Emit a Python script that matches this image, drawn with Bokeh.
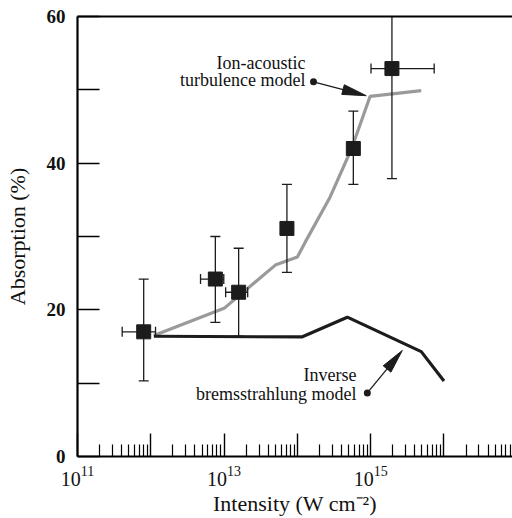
import math
from bokeh.plotting import figure
from bokeh.models import (Range1d, FixedTicker, CustomJSTickFormatter, LinearAxis,
                          Whisker, TeeHead, ColumnDataSource, LogTickFormatter)
from bokeh.core.properties import value
from bokeh.embed import file_html
from bokeh.resources import INLINE

# ---------------- data ----------------
intensity = [8.0e11, 7.6e12, 1.58e13, 7.2e13, 5.8e14, 1.95e15]
absorption = [17.0, 24.2, 22.4, 31.1, 42.0, 52.9]
absorption_low = [10.3, 18.3, 16.4, 25.1, 37.1, 37.9]
absorption_high = [24.2, 30.0, 28.4, 37.1, 47.1, 62.0]
intensity_low = [4.07e11, 4.77e12, 1.05e13, None, None, 1.01e15]
intensity_high = [1.16e12, 9.9e12, 2.1e13, None, None, 7.35e15]

ion_x = [1.1e12, 1.0e13, 5.0e13, 1.0e14, 1.29e14, 2.8e14, 5.5e14, 9.8e14, 4.9e15]
ion_y = [16.5, 20.2, 26.1, 27.2, 29.3, 35.4, 42.0, 49.1, 49.9]

brems_x = [1.1e12, 1.15e14, 4.8e14, 4.9e15, 1.0e16]
brems_y = [16.4, 16.3, 19.0, 14.3, 10.3]

y_ticks = [0, 10, 20, 30, 40, 50, 60]
y_tick_labels = {"0": "0", "20": "20", "40": "40", "60": "60"}
x_unlabelled_decades = [1e12, 1e14, 1e16]

ion_label = ["Ion-acoustic", "turbulence model"]
ion_label_x = 1.29e14
ion_label_y = [53.7, 51.4]
ion_dot = (1.66e14, 51.1)
ion_tip = (8.7e14, 49.2)

brems_label = ["Inverse", "bremsstrahlung model"]
brems_label_x = 6.4e14
brems_label_y = [11.16, 8.57]
brems_dot = (9.0e14, 8.67)
brems_tip = (2.7e15, 14.46)

# ---------------- figure ----------------
LX0, LX1 = 11.0, 16.935
FW, FH = 435, 441
SERIF = "'Liberation Serif', serif"
INK = "#111111"

p = figure(width=512, height=518, x_axis_type="log",
           x_range=Range1d(10 ** LX0, 10 ** LX1), y_range=Range1d(0, 60),
           output_backend="svg", toolbar_location=None,
           min_border_left=77, min_border_right=0, min_border_top=16, min_border_bottom=61)
p.outline_line_color = None
p.xgrid.visible = False
p.ygrid.visible = False
p.background_fill_color = "white"
p.border_fill_color = "white"

# x axis
xa = p.xaxis[0]
decades = [10.0 ** k for k in range(11, 17)]
minors = [m * 10.0 ** k for k in range(11, 17) for m in range(2, 10)]
xa.ticker = FixedTicker(ticks=decades, minor_ticks=minors)
xa.formatter = LogTickFormatter()
xa.major_label_overrides = {d: "" for d in x_unlabelled_decades}
xa.major_tick_in = 23
xa.major_tick_out = 0
xa.minor_tick_in = 12
xa.minor_tick_out = 0
xa.major_tick_line_width = 1.4
xa.minor_tick_line_width = 1.2
xa.axis_line_width = 2.2
xa.major_label_standoff = 9
xa.major_label_text_font = SERIF
xa.major_label_text_font_size = "20px"
xa.major_label_text_color = INK
xa.axis_label = "Intensity (W cm⁻²)"
xa.axis_label_text_font = SERIF
xa.axis_label_text_font_size = "22px"
xa.axis_label_text_font_style = "normal"
xa.axis_label_text_color = INK
xa.axis_label_standoff = 2

# y axis
ya = p.yaxis[0]
ya.ticker = FixedTicker(ticks=y_ticks, minor_ticks=[])
ya.formatter = CustomJSTickFormatter(args=dict(labels=y_tick_labels), code="""
    const k = String(Math.round(tick));
    return (k in labels) ? labels[k] : "";
""")
ya.major_tick_in = 22
ya.major_tick_out = 0
ya.minor_tick_line_color = None
ya.major_tick_line_width = 1.5
ya.axis_line_width = 2.2
ya.major_label_standoff = 12
ya.major_label_text_font = SERIF
ya.major_label_text_font_size = "19px"
ya.major_label_text_font_style = "bold"
ya.major_label_text_color = INK
ya.axis_label = "Absorption (%)"
ya.axis_label_text_font = SERIF
ya.axis_label_text_font_size = "22px"
ya.axis_label_text_font_style = "normal"
ya.axis_label_text_color = INK
ya.axis_label_standoff = 14

# top line
top = LinearAxis(ticker=FixedTicker(ticks=[]), axis_line_width=2.2,
                 major_tick_line_color=None, minor_tick_line_color=None,
                 major_label_text_font_size="0px")
p.add_layout(top, "above")

# ---------------- models ----------------
p.line(ion_x, ion_y, line_color="#9a9a9a", line_width=3.2)
p.line(brems_x, brems_y, line_color="#1c1c1c", line_width=3.2)

# error bars
src_y = ColumnDataSource(dict(x=intensity, lo=absorption_low, hi=absorption_high))
wy = Whisker(source=src_y, base="x", lower="lo", upper="hi", dimension="height",
             line_color="#1c1c1c", line_width=1.3, level="glyph",
             lower_head=TeeHead(size=10, line_color="#1c1c1c", line_width=1.3),
             upper_head=TeeHead(size=10, line_color="#1c1c1c", line_width=1.3))
p.add_layout(wy)

idx = [i for i in range(len(intensity)) if intensity_low[i] is not None]
src_x = ColumnDataSource(dict(y=[absorption[i] for i in idx],
                              lo=[intensity_low[i] for i in idx],
                              hi=[intensity_high[i] for i in idx]))
wx = Whisker(source=src_x, base="y", lower="lo", upper="hi", dimension="width",
             line_color="#1c1c1c", line_width=1.3, level="glyph",
             lower_head=TeeHead(size=10, line_color="#1c1c1c", line_width=1.3),
             upper_head=TeeHead(size=10, line_color="#1c1c1c", line_width=1.3))
p.add_layout(wx)

p.scatter(intensity, absorption, marker="square", size=14,
          fill_color="#1c1c1c", line_color="#1c1c1c")

# ---------------- annotations ----------------
def to_px(x, y):
    return ((math.log10(x) - LX0) / (LX1 - LX0) * FW, y / 60.0 * FH)

def from_px(px, py):
    return (10 ** (LX0 + px / FW * (LX1 - LX0)), py / FH * 60.0)

def arrow(dot, tip, head_len=24, head_half=5):
    dx, dy = to_px(*dot)
    tx, ty = to_px(*tip)
    L = math.hypot(tx - dx, ty - dy)
    ux, uy = (tx - dx) / L, (ty - dy) / L
    nx, ny = -uy, ux
    bx, by = tx - head_len * ux, ty - head_len * uy
    pts = [(tx, ty), (bx + head_half * nx, by + head_half * ny), (bx - head_half * nx, by - head_half * ny)]
    hx, hy = zip(*[from_px(a, b) for a, b in pts])
    sx, sy = zip(*[from_px(a, b) for a, b in [(dx, dy), (bx + 2 * ux, by + 2 * uy)]])
    p.line(list(sx), list(sy), line_color="#1c1c1c", line_width=1.3)
    p.patch(list(hx), list(hy), fill_color="#1c1c1c", line_color="#1c1c1c", line_width=1)
    p.scatter([dot[0]], [dot[1]], marker="circle", size=7, fill_color="#1c1c1c", line_color=None)

arrow(ion_dot, ion_tip)
arrow(brems_dot, brems_tip)

p.text([ion_label_x] * 2, ion_label_y, text=ion_label, text_align="right",
       text_baseline="middle", text_font=value(SERIF), text_font_size="18px",
       text_color=INK)
p.text([brems_label_x] * 2, brems_label_y, text=brems_label, text_align="right",
       text_baseline="middle", text_font=value(SERIF), text_font_size="18px",
       text_color=INK)

open("out.html", "w").write(file_html(p, INLINE))
